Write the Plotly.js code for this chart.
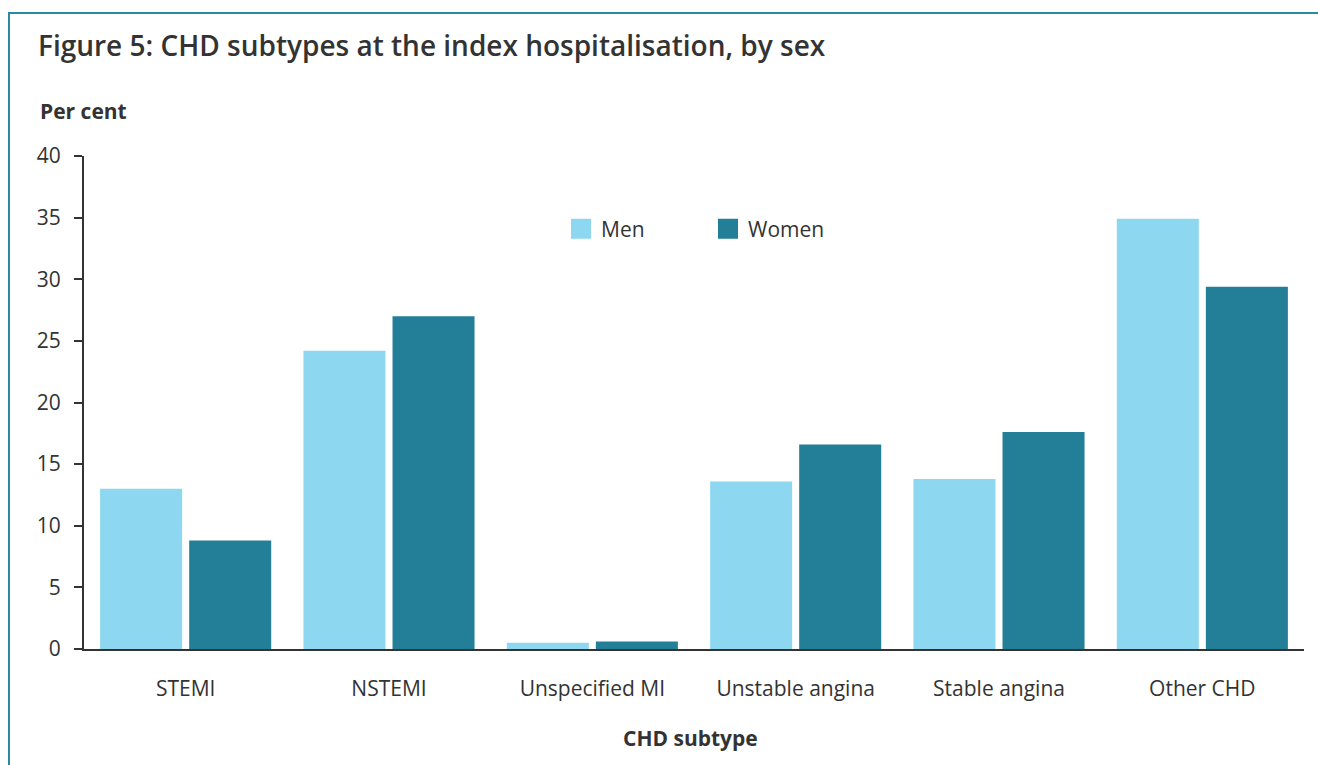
<!DOCTYPE html>
<html>
<head>
<meta charset="utf-8">
<script src="https://cdn.plot.ly/plotly-3.0.1.min.js"></script>
<style>
  html, body { margin: 0; padding: 0; background: #fff; overflow: hidden; }
  #frame { position: absolute; left: 8px; top: 12px; width: 1330px; height: 800px; border: 2px solid #2a8aa0; box-sizing: border-box; }
  #chart { position: absolute; left: 0; top: 0; width: 1318px; height: 765px; }
</style>
</head>
<body>
<div id="frame"></div>
<div id="chart"></div>
<script>
const categories = ["STEMI", "NSTEMI", "Unspecified MI", "Unstable angina", "Stable angina", "Other CHD"];
const men = [13.0, 24.2, 0.5, 13.6, 13.8, 34.9];
const women = [8.8, 27.0, 0.6, 16.6, 17.6, 29.4];
const yTicks = [0, 5, 10, 15, 20, 25, 30, 35, 40];

const FONT = "Open Sans, Noto Sans, sans-serif";
const TXT = "#333333";
const L = 84, R = 1304, T = 156, B = 649, W = 1318, H = 765;
const pw = R - L, ph = B - T;

const traces = [
  { type: "bar", name: "Men", x: categories, y: men, marker: { color: "#8dd7f0" }, hoverinfo: "x+y+name" },
  { type: "bar", name: "Women", x: categories, y: women, marker: { color: "#237f97" }, hoverinfo: "x+y+name" }
];

const layout = {
  width: W, height: H,
  paper_bgcolor: "rgba(0,0,0,0)", plot_bgcolor: "rgba(0,0,0,0)",
  margin: { l: L, r: W - R, t: T, b: H - B, pad: 0 },
  font: { family: FONT, color: TXT, size: 21 },
  title: {
    text: "Figure 5: CHD subtypes at the index hospitalisation, by sex",
    font: { family: FONT, size: 28, weight: 600, color: TXT },
    x: 38 / W, xanchor: "left", xref: "container",
    y: 1 - 46 / H, yanchor: "middle", yref: "container"
  },
  barmode: "group", bargap: 0.124, bargroupgap: 0.079,
  xaxis: {
    type: "category", showgrid: false, zeroline: false,
    showline: true, linecolor: "#333", linewidth: 2,
    ticks: "", tickfont: { size: 21, color: TXT }, ticklabelstandoff: 20,
    fixedrange: true
  },
  yaxis: {
    range: [0, 40], tickvals: yTicks, ticktext: yTicks.map(String),
    showgrid: false, zeroline: false,
    showline: true, linecolor: "#333", linewidth: 2,
    ticks: "outside", ticklen: 8, tickwidth: 2, tickcolor: "#333",
    tickfont: { size: 21, color: TXT }, ticklabelstandoff: 9,
    fixedrange: true
  },
  showlegend: true,
  legend: {
    orientation: "h", x: (561 - L) / pw, xanchor: "left",
    y: (B - 229) / ph, yanchor: "middle",
    font: { size: 21, color: TXT }, entrywidth: 102, bgcolor: "rgba(0,0,0,0)",
    itemclick: false, itemdoubleclick: false
  },
  annotations: [
    { text: "<b>Per cent</b>", xref: "paper", yref: "paper",
      x: (38 - L) / pw, xanchor: "left", y: (B - 111) / ph, yanchor: "middle",
      showarrow: false, font: { family: FONT, size: 21, color: TXT } },
    { text: "<b>CHD subtype</b>", xref: "paper", yref: "paper",
      x: (690 - L) / pw, xanchor: "center", y: (B - 738) / ph, yanchor: "middle",
      showarrow: false, font: { family: FONT, size: 21, color: TXT } }
  ]
};

Plotly.newPlot("chart", traces, layout, { displayModeBar: false }).then(function (gd) {
  // enlarge the legend swatches to match the reference's 20px squares
  gd.querySelectorAll(".legend .legendpoints path").forEach(function (p) {
    p.setAttribute("d", "M10,10H-10V-10H10Z");
  });
});
</script>
</body>
</html>
